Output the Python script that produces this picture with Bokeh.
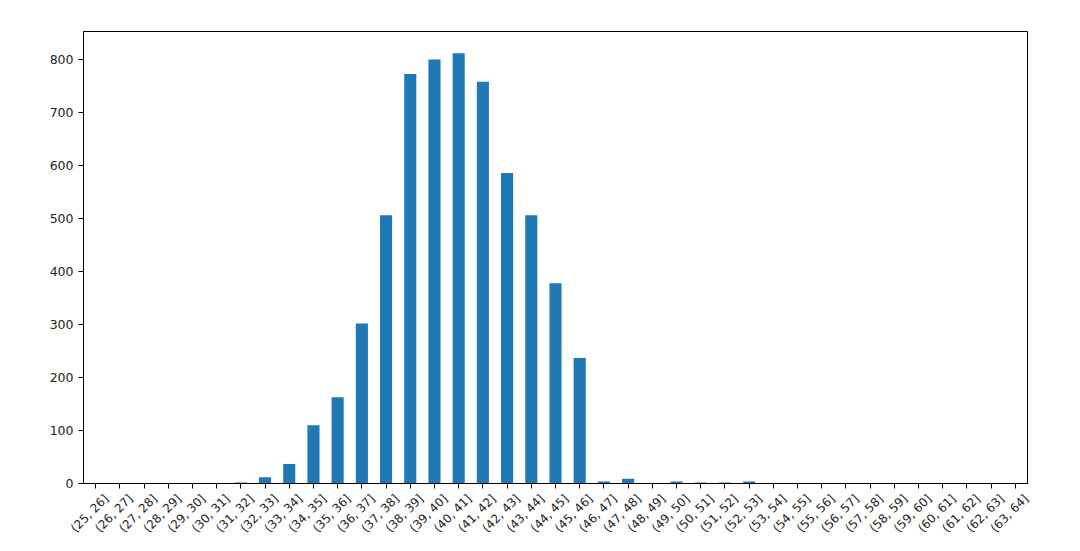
import math
from bokeh.plotting import figure
from bokeh.models import (Range1d, SingleIntervalTicker, FixedTicker,
                          LinearAxis, ColumnDataSource)
from bokeh.embed import file_html
from bokeh.resources import INLINE

bins = [f"({a}, {a+1}]" for a in range(25, 64)]
counts = [0, 0, 0, 0, 0, 0, 2, 12, 37, 110, 163, 302, 506, 773, 800, 812, 758, 586,
          506, 378, 237, 4, 9, 0, 4, 2, 2, 4, 0, 0, 0, 0, 0, 0, 0, 0, 0, 0, 0]

n = len(bins)
pos = list(range(n))  # category index positions
src = ColumnDataSource(dict(pos=pos, bin=bins, count=counts))

p = figure(x_range=Range1d(-0.5, n - 0.5), y_range=Range1d(0, 853),
           width=1072, height=543, output_backend="svg", toolbar_location=None,
           min_border_left=83, min_border_right=45, min_border_top=31, min_border_bottom=55)
p.vbar(x="pos", top="count", source=src, width=0.5, color="#1f77b4", line_color=None)

p.xgrid.visible = False
p.ygrid.visible = False
p.outline_line_color = "black"
p.outline_line_width = 1
p.yaxis.ticker = SingleIntervalTicker(interval=100)
p.xaxis.ticker = FixedTicker(ticks=pos)
for ax in (p.xaxis[0], p.yaxis[0]):
    ax.axis_line_color = "black"
    ax.major_tick_line_color = "black"
    ax.major_tick_out = 5
    ax.major_tick_in = 0
    ax.minor_tick_line_color = None
    ax.major_label_text_font = "DejaVu Sans"
    ax.major_label_text_font_size = "12.5px"
    ax.major_label_text_color = "#222222"
# main x axis: tick marks only (its own labels are not drawn)
p.xaxis.major_label_text_font_size = "1px"
p.xaxis.major_label_text_color = None
p.xaxis.major_label_standoff = 0

# label axis: same categories, shifted so rotated labels sit centred under their ticks
shift = 0.45
p.extra_x_ranges = {"lab": Range1d(-0.5 - shift, n - 0.5 - shift)}
lab_axis = LinearAxis(x_range_name="lab", ticker=FixedTicker(ticks=pos),
                      major_label_overrides={i: b for i, b in enumerate(bins)})
lab_axis.axis_line_color = None
lab_axis.major_tick_line_color = None
lab_axis.minor_tick_line_color = None
lab_axis.major_tick_out = 0
lab_axis.major_tick_in = 0
lab_axis.major_label_orientation = math.pi / 4
lab_axis.major_label_standoff = 8
lab_axis.major_label_text_font = "DejaVu Sans"
lab_axis.major_label_text_font_size = "12px"
lab_axis.major_label_text_color = "#222222"
p.add_layout(lab_axis, "below")

open("out.html", "w").write(file_html(p, INLINE))
